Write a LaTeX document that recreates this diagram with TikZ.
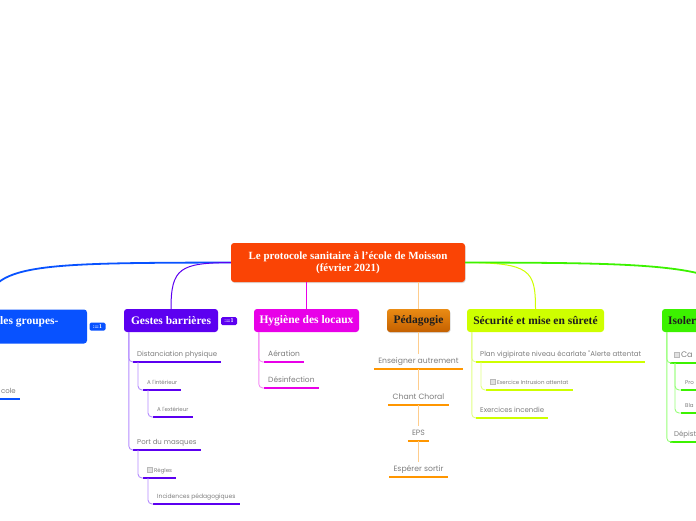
\documentclass[tikz,border=0pt]{standalone}
\usepackage{fontspec}
\setmainfont{Liberation Serif}
\newfontfamily\itemfont{Poppins}
\usetikzlibrary{shadows}
\definecolor{cRoot}{RGB}{250,68,5}
\definecolor{cBlue}{RGB}{8,82,255}
\definecolor{cBlueL}{RGB}{120,150,255}
\definecolor{cPurp}{RGB}{92,0,240}
\definecolor{cPurpL}{RGB}{180,140,255}
\definecolor{cMag}{RGB}{232,0,232}
\definecolor{cMagL}{RGB}{245,140,245}
\definecolor{cOrgTop}{RGB}{234,140,20}
\definecolor{cOrgBot}{RGB}{196,96,0}
\definecolor{cOrg}{RGB}{255,150,0}
\definecolor{cOrgL}{RGB}{255,205,140}
\definecolor{cYel}{RGB}{206,255,0}
\definecolor{cYelL}{RGB}{225,255,130}
\definecolor{cGrn}{RGB}{60,242,0}
\definecolor{cGrnL}{RGB}{150,255,120}
\definecolor{cText}{RGB}{125,125,125}
\definecolor{cDark}{RGB}{30,30,30}
\definecolor{cbBorder}{RGB}{185,185,185}
\definecolor{cbFill}{RGB}{225,225,225}
\newcommand\chkbox{{\setlength\fboxsep{0pt}\setlength\fboxrule{0.4pt}\fcolorbox{cbBorder}{cbFill}{\rule{0pt}{4.5pt}\rule{4.5pt}{0pt}}}\hspace{1.5pt}}
\begin{document}
\begin{tikzpicture}[x=1pt,y=-1pt,
  topic/.style={rounded corners=3pt, minimum height=23pt, inner sep=0pt, font=\bfseries\fontsize{11.5}{13}\selectfont},
  item/.style={inner xsep=4pt, inner ysep=4pt, text height=5pt, text depth=1.5pt, text=cText,
    font=\itemfont\fontsize{7}{8}\selectfont,
    append after command={(\tikzlastnode.south west) edge[draw=#1, line width=2pt] (\tikzlastnode.south east)}},
  fs/.style={font=\itemfont\fontsize{#1}{#1}\selectfont},
  badge/.style={fill=#1, rounded corners=1.5pt, minimum width=16pt, minimum height=8pt, inner sep=0pt, text=white, font=\sffamily\bfseries\fontsize{5.5}{5.5}\selectfont},
  branch/.style={draw=#1, line width=1pt},
  tree/.style={draw=#1, line width=0.9pt, rounded corners=4pt},
  shad/.style={drop shadow={opacity=0.3, shadow xshift=0.6pt, shadow yshift=-1pt}}
]
\useasboundingbox (0,0) rectangle (696,520);
\clip (0,0) rectangle (696,520);

% central topic
\node[topic, fill=cRoot, text=white, minimum width=234pt, minimum height=39pt, align=center,
  font=\bfseries\fontsize{11}{12}\selectfont, shad] (c) at (348,262.5)
  {Le protocole sanitaire à l'école de Moisson\\(février 2021)};

% main topics
\node[topic, fill=cBlue, minimum width=200pt, minimum height=34pt] (bl) at (-13,326.5) {};
\node[anchor=west, inner sep=0pt, text=white, font=\bfseries\fontsize{11.5}{13}\selectfont] (blt) at (0,322) {les groupes-};
\node[badge=cBlue] (blb) at (97.5,326.5) {:=1};
\node[topic, fill=cPurp, text=white, minimum width=94pt] (gb) at (171,320.5) {Gestes barrières};
\node[badge=cPurp] (gbb) at (229,321) {:=1};
\node[topic, fill=cMag, text=white, minimum width=105pt] (hy) at (306.5,320.5) {Hygiène des locaux};
\node[topic, top color=cOrgTop, bottom color=cOrgBot, text=cDark, minimum width=63pt, shad] (pg) at (418.5,320.5) {Pédagogie};
\node[topic, fill=cYel, text=cDark, minimum width=137pt] (sc) at (535.5,320.5) {Sécurité et mise en sûreté};
\node[topic, fill=cGrn, minimum width=156pt] (gr) at (740,320.5) {};
\node[anchor=west, inner sep=0pt, text=cDark, font=\bfseries\fontsize{11.5}{13}\selectfont] (grt) at (668,320.5) {Isoler};

% main connectors
\draw[branch=cBlue, line width=1.8pt] (c.west) .. controls (40,263) and (-13,263) .. (bl.north);
\draw[branch=cPurp] (c.west) .. controls (180,263) and (171,268) .. (gb.north);
\draw[branch=cMag] (hy.north |- c.south) -- (hy.north);
\draw[branch=cOrgL] (pg.north |- c.south) -- (pg.north);
\draw[branch=cYel] (c.east) .. controls (530,263) and (535.5,270) .. (sc.north);
\draw[branch=cGrn, line width=1.8pt] (c.east) .. controls (650,263) and (740,263) .. (gr.north);

% blue items
\node[item=cBlue, anchor=south east] (b1) at (20,399) {cole};
\draw[tree=cBlueL] ([xshift=5pt]bl.south west) |- (b1.south west);

% Gestes barrieres items
\node[item=cPurp, anchor=south west] (d1) at (133,362) {Distanciation physique};
\node[item=cPurp, fs=5.5, anchor=south west] (d2) at (143,390) {A l'intérieur};
\node[item=cPurp, fs=5.5, anchor=south west] (d3) at (153,417) {A l'extérieur};
\node[item=cPurp, anchor=south west] (d4) at (133,450) {Port du masques};
\node[item=cPurp, fs=5.5, anchor=south west] (d5) at (143,478) {\chkbox Règles};
\node[item=cPurp, fs=6, anchor=south west] (d6) at (153,504) {Incidences pédagogiques};
\draw[tree=cPurpL] ([xshift=5pt]gb.south west) |- (d1.south west);
\draw[tree=cPurpL] ([xshift=5pt]gb.south west) |- (d4.south west);
\draw[tree=cPurpL] ([xshift=5pt]d1.south west) |- (d2.south west);
\draw[tree=cPurpL] ([xshift=5pt]d2.south west) |- (d3.south west);
\draw[tree=cPurpL] ([xshift=5pt]d4.south west) |- (d5.south west);
\draw[tree=cPurpL] ([xshift=5pt]d5.south west) |- (d6.south west);

% Hygiene items
\node[item=cMag, fs=7.5, anchor=south west] (h1) at (264,362) {Aération};
\node[item=cMag, fs=7.5, anchor=south west] (h2) at (264,388) {Désinfection};
\draw[tree=cMagL] ([xshift=5pt]hy.south west) |- (h1.south west);
\draw[tree=cMagL] ([xshift=5pt]hy.south west) |- (h2.south west);

% Pedagogie items
\node[item=cOrg, fs=7.7, anchor=south] (p1) at (418.5,369) {Enseigner autrement};
\node[item=cOrg, fs=7.7, anchor=south] (p2) at (418.5,405) {Chant Choral};
\node[item=cOrg, fs=7.7, anchor=south] (p3) at (418.5,441) {EPS};
\node[item=cOrg, fs=7.7, anchor=south] (p4) at (418.5,477) {Espérer sortir};
\draw[branch=cOrgL] (pg.south) -- (p1.north);
\draw[branch=cOrgL] (p1.south) -- (p2.north);
\draw[branch=cOrgL] (p2.south) -- (p3.north);
\draw[branch=cOrgL] (p3.south) -- (p4.north);

% Securite items
\node[item=cYel, anchor=south west] (s1) at (476,362) {Plan vigipirate niveau écarlate "Alerte attentat};
\node[item=cYel, fs=5.5, anchor=south west] (s2) at (486,390) {\chkbox Exercice Intrusion attentat};
\node[item=cYel, anchor=south west] (s3) at (476,418) {Exercices incendie};
\draw[tree=cYelL] ([xshift=5pt]sc.south west) |- (s1.south west);
\draw[tree=cYelL] ([xshift=5pt]sc.south west) |- (s3.south west);
\draw[tree=cYelL] ([xshift=5pt]s1.south west) |- (s2.south west);

% Isoler items
\node[item=cGrn, fs=8, anchor=south west] (g1) at (670,363) {\chkbox Ca};
\node[item=cGrn, fs=5.5, anchor=south west] (g2) at (681,390) {Pro};
\node[item=cGrn, fs=5.5, anchor=south west] (g3) at (681,413) {Bla};
\node[item=cGrn, anchor=south west] (g4) at (670,442) {Dépist};
\draw[tree=cGrnL] ([xshift=5pt]gr.south west) |- (g1.south west);
\draw[tree=cGrnL] ([xshift=5pt]gr.south west) |- (g4.south west);
\draw[tree=cGrnL] ([xshift=5pt]g1.south west) |- (g2.south west);
\draw[tree=cGrnL] ([xshift=5pt]g1.south west) |- (g3.south west);
\end{tikzpicture}
\end{document}
